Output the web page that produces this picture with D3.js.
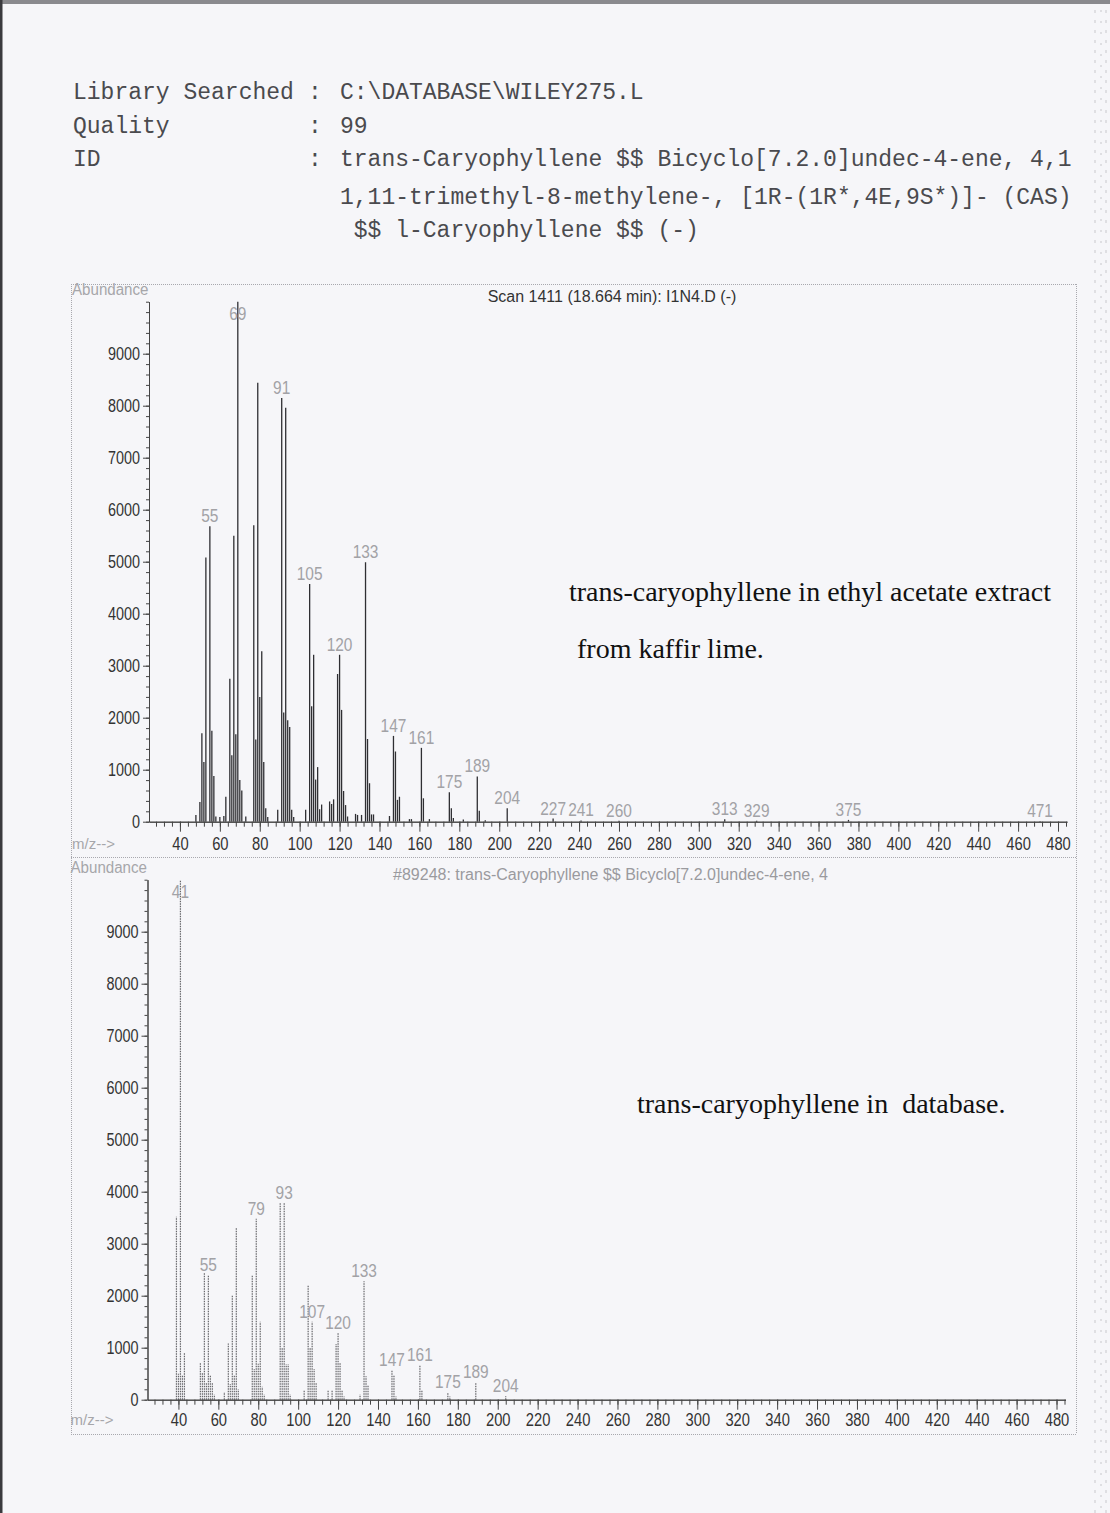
<!DOCTYPE html>
<html>
<head>
<meta charset="utf-8">
<script src="https://cdn.jsdelivr.net/npm/d3@7/dist/d3.min.js"></script>
<style>
  html, body { margin: 0; padding: 0; background: #f6f6f9; }
  svg { display: block; }
  .mono { font-family: 'Liberation Mono', 'Courier New', monospace; }
  .serif { font-family: 'Liberation Serif', 'Times New Roman', serif; }
</style>
</head>
<body>
<svg id="page" width="1110" height="1513"></svg>
<script>
// ---- Library search report ----
const headerLabels = ["Library Searched", "Quality", "ID"];
const headerValues = [
  "C:\\DATABASE\\WILEY275.L",
  "99",
  "trans-Caryophyllene $$ Bicyclo[7.2.0]undec-4-ene, 4,1",
  "1,11-trimethyl-8-methylene-, [1R-(1R*,4E,9S*)]- (CAS)",
  " $$ l-Caryophyllene $$ (-)"
];

// ---- Sample spectrum: Scan 1411 (18.664 min) ----
const sampleTitle = "Scan 1411 (18.664 min): I1N4.D (-)";
const sampleMz = [48, 50, 51, 52, 53, 55, 56, 57, 58, 60, 62, 63, 65, 66, 67, 68, 69, 70, 71, 73,
  77, 78, 79, 80, 81, 82, 83, 84, 89, 91, 92, 93, 94, 95, 96, 97, 103, 105, 106, 107, 108, 109,
  110, 111, 115, 116, 117, 119, 120, 121, 122, 123, 124, 128, 129, 131, 133, 134, 135, 136, 137,
  145, 147, 148, 149, 150, 155, 156, 161, 162, 165, 175, 176, 177, 182, 189, 190, 193, 204,
  227, 241, 260, 313, 329, 375, 471];
const sampleAbundance = [130, 380, 1700, 1150, 5080, 5680, 1750, 880, 100, 90, 110, 480, 2750, 1280,
  5500, 1680, 10000, 800, 600, 100, 5700, 1580, 8440, 2400, 3280, 1150, 260, 90, 230, 8150, 2100,
  7960, 1950, 1820, 230, 90, 230, 4570, 2220, 3210, 810, 1050, 240, 330, 390, 340, 430, 2840, 3210,
  2150, 590, 320, 100, 150, 130, 130, 4990, 1590, 740, 140, 140, 110, 1650, 1350, 420, 480, 50, 50,
  1420, 450, 50, 565, 260, 70, 40, 870, 210, 30, 260, 60, 25, 20, 45, 20, 35, 10];
const sampleLabels = [55, 69, 91, 105, 120, 133, 147, 161, 175, 189, 204, 227, 241, 260, 313, 329, 375, 471];

// ---- Library spectrum: #89248 ----
const libraryTitle = "#89248: trans-Caryophyllene $$ Bicyclo[7.2.0]undec-4-ene, 4";
const libraryMz = [39, 40, 41, 42, 43, 51, 52, 53, 54, 55, 56, 57, 58, 63, 65, 66, 67, 68, 69, 70,
  77, 78, 79, 80, 81, 82, 83, 91, 92, 93, 94, 95, 96, 103, 105, 106, 107, 108, 109, 115, 117, 119,
  120, 121, 122, 123, 131, 133, 134, 135, 147, 148, 149, 161, 162, 175, 176, 189, 204];
const libraryAbundance = [3520, 500, 10000, 480, 900, 700, 530, 2450, 320, 2400, 480, 320, 100, 150,
  1080, 300, 2010, 480, 3300, 200, 2400, 590, 3480, 690, 1500, 250, 100, 3790, 1000, 3790, 680, 680,
  100, 190, 2210, 1000, 1500, 590, 330, 190, 190, 1070, 1280, 700, 180, 60, 100, 2280, 450, 280, 570,
  470, 60, 660, 180, 140, 60, 335, 65];
const libraryLabels = [41, 55, 79, 93, 107, 120, 133, 147, 161, 175, 189, 204];

// ---- Axes ----
const yTickValues = [0, 1000, 2000, 3000, 4000, 5000, 6000, 7000, 8000, 9000];
const xTickValues = [40, 60, 80, 100, 120, 140, 160, 180, 200, 220, 240, 260, 280, 300, 320, 340,
  360, 380, 400, 420, 440, 460, 480];

// ---- Notes ----
const sampleNote = ["trans-caryophyllene in ethyl acetate extract", "from kaffir lime."];
const libraryNote = "trans-caryophyllene in  database.";

const svg = d3.select("#page");
const sans = "'Liberation Sans', Arial, sans-serif";

// squeeze digits to the narrow print face of the instrument report
function narrowText(sel, perChar) {
  sel.each(function () {
    const t = d3.select(this);
    const s = t.text();
    t.attr("textLength", s.length * perChar).attr("lengthAdjust", "spacingAndGlyphs");
  });
}

// paper and scan edges
svg.append("rect").attr("width", 1110).attr("height", 1513).attr("fill", "#f6f6f9");
svg.append("rect").attr("x", 0).attr("y", 0).attr("width", 1110).attr("height", 4).attr("fill", "#8a8a8e");
svg.append("rect").attr("x", 0).attr("y", 0).attr("width", 2.5).attr("height", 1513).attr("fill", "#3a3a3e");
[1095, 1101, 1106].forEach((x, i) => {
  svg.append("line").attr("x1", x).attr("x2", x).attr("y1", 10).attr("y2", 1513)
    .attr("stroke", "#c8c8cc").attr("stroke-width", 1)
    .attr("stroke-dasharray", i === 1 ? "2,9" : "3,7");
});

// report header
const header = svg.append("g").attr("class", "mono").attr("fill", "#4a4a4e").style("font-size", "23px");
const headerRows = [99, 133, 166];
headerLabels.forEach((t, i) => {
  header.append("text").attr("x", 73).attr("y", headerRows[i]).text(t);
  header.append("text").attr("x", 308).attr("y", headerRows[i]).text(":");
});
header.append("text").attr("x", 340).attr("y", 99).text(headerValues[0]);
header.append("text").attr("x", 340).attr("y", 133).text(headerValues[1]);
header.append("text").attr("x", 340).attr("y", 166).text(headerValues[2]);
header.append("text").attr("x", 340).attr("y", 204).text(headerValues[3]);
header.append("text").attr("x", 340).attr("y", 237).style("white-space", "pre").text(headerValues[4]);

// outer dotted frame around both panels
const frame = svg.append("g").attr("stroke", "#a8a8ae").attr("stroke-width", 1).attr("stroke-dasharray", "1,1").attr("fill", "none");
frame.append("line").attr("x1", 71).attr("x2", 1076).attr("y1", 284.5).attr("y2", 284.5);
frame.append("line").attr("x1", 71).attr("x2", 1076).attr("y1", 857.5).attr("y2", 857.5);
frame.append("line").attr("x1", 71).attr("x2", 1076).attr("y1", 1434.5).attr("y2", 1434.5);
frame.append("line").attr("x1", 71.5).attr("x2", 71.5).attr("y1", 284).attr("y2", 1434);
frame.append("line").attr("x1", 1076.5).attr("x2", 1076.5).attr("y1", 284).attr("y2", 1434);

function drawPanel(opt) {
  const g = svg.append("g").attr("transform", `translate(${opt.dx},0)`);
  const x = d3.scaleLinear().domain([24.5, 484.5]).range([149, 1067]);
  const y = d3.scaleLinear().domain([0, 10000]).range([opt.zeroY, opt.zeroY - 520]);

  // peaks
  const peaks = opt.mz.map((m, i) => ({ m, v: opt.abundance[i] }));
  g.append("g").selectAll("line").data(peaks).join("line")
    .attr("x1", d => x(d.m)).attr("x2", d => x(d.m))
    .attr("y1", y(0)).attr("y2", d => y(d.v))
    .attr("stroke", opt.stroke).attr("stroke-width", opt.width)
    .attr("stroke-dasharray", opt.dash);

  // y axis: minor then major ticks
  const yMinor = g.append("g").attr("transform", "translate(149,0)")
    .call(d3.axisLeft(y).tickValues(d3.range(0, 10001, 200)).tickSize(3).tickSizeOuter(0).tickFormat(""));
  const yMajor = g.append("g").attr("transform", "translate(149,0)")
    .call(d3.axisLeft(y).tickValues(opt.yTicks).tickSize(6).tickSizeOuter(0).tickPadding(3)
      .tickFormat(d3.format("d")));
  [yMinor, yMajor].forEach(a => {
    a.selectAll("path, line").attr("stroke", "#444").attr("stroke-width", 1);
  });
  yMajor.selectAll("text").attr("fill", "#333").style("font-family", sans).style("font-size", "18px")
    .call(narrowText, 8);

  // x axis: minor then major ticks
  const xMinor = g.append("g").attr("transform", `translate(0,${opt.zeroY})`)
    .call(d3.axisBottom(x).tickValues(d3.range(28, 485, 4)).tickSize(5).tickSizeOuter(0).tickFormat(""));
  const xMajor = g.append("g").attr("transform", `translate(0,${opt.zeroY})`)
    .call(d3.axisBottom(x).tickValues(opt.xTicks).tickSize(10).tickSizeOuter(0).tickPadding(3));
  [xMinor, xMajor].forEach(a => {
    a.selectAll("path, line").attr("stroke", "#444").attr("stroke-width", 1);
  });
  xMajor.selectAll("text").attr("fill", "#333").attr("dy", null).attr("y", opt.labelDy)
    .style("font-family", sans).style("font-size", "18px")
    .call(narrowText, 8.2);

  // labelled peak values
  const labelled = peaks.filter(d => opt.labels.includes(d.m));
  g.append("g").selectAll("text").data(labelled).join("text")
    .attr("x", d => x(d.m))
    .attr("y", d => Math.max(y(d.v) - 4, y(10000) + 18))
    .attr("text-anchor", "middle").attr("fill", "#a2a2a6")
    .style("font-family", sans).style("font-size", "18px")
    .text(d => d.m)
    .call(narrowText, 8.6);

  // panel captions
  g.append("text").attr("x", 72).attr("y", opt.zeroY - 527).attr("fill", "#a6a6aa")
    .style("font-family", sans).style("font-size", "16px").text("Abundance")
    .call(narrowText, 8.5);
  g.append("text").attr("x", 72).attr("y", opt.zeroY + opt.labelDy - 1).attr("fill", "#a6a6aa")
    .style("font-family", sans).style("font-size", "15px").text("m/z-->");
  g.append("text").attr("x", 612).attr("y", opt.zeroY - 520).attr("text-anchor", "middle")
    .attr("fill", opt.titleFill).style("font-family", sans).style("font-size", "16px").text(opt.title);
}

drawPanel({
  dx: 0, zeroY: 821.7, labelDy: 28,
  mz: sampleMz, abundance: sampleAbundance, labels: sampleLabels,
  yTicks: yTickValues, xTicks: xTickValues, title: sampleTitle, titleFill: "#333",
  stroke: "#2f2f33", width: 1.3, dash: null
});
drawPanel({
  dx: -1.5, zeroY: 1399.7, labelDy: 26,
  mz: libraryMz, abundance: libraryAbundance, labels: libraryLabels,
  yTicks: yTickValues, xTicks: xTickValues, title: libraryTitle, titleFill: "#9a9a9e",
  stroke: "#66666a", width: 1.2, dash: "1.5,1"
});

// typed notes on the printout
const notes = svg.append("g").attr("class", "serif").attr("fill", "#111").style("font-size", "28px");
notes.append("text").attr("x", 569).attr("y", 601).text(sampleNote[0]);
notes.append("text").attr("x", 577).attr("y", 658).text(sampleNote[1]);
notes.append("text").attr("x", 637).attr("y", 1113).style("white-space", "pre").text(libraryNote);
</script>
</body>
</html>
